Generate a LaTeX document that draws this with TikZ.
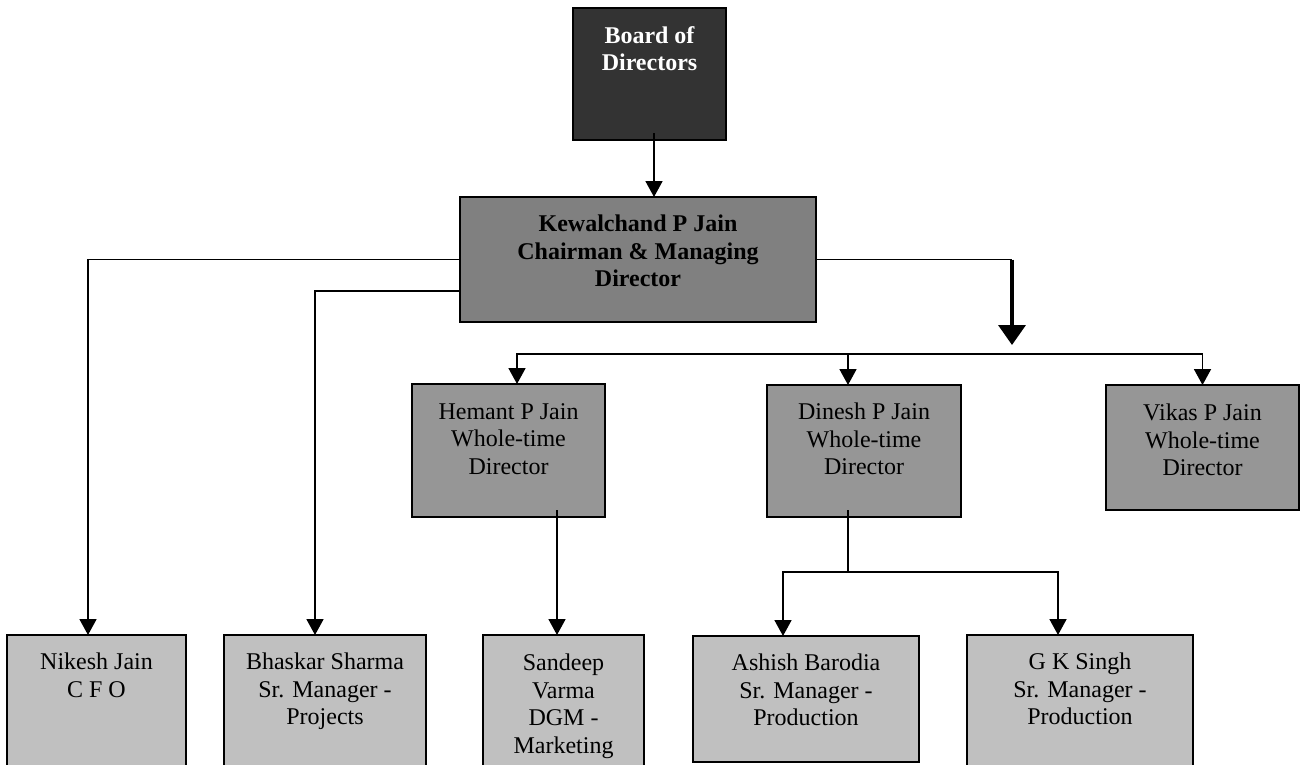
\documentclass[tikz,border=0pt]{standalone}
\usepackage{fontspec}
\setmainfont{Liberation Serif}
\usetikzlibrary{arrows.meta,calc}
\definecolor{gdark}{HTML}{333333}
\definecolor{gmid}{HTML}{808080}
\definecolor{glev}{HTML}{969696}
\definecolor{glight}{HTML}{C0C0C0}
\tikzset{
  box/.style={draw=black, line width=1.6pt, inner sep=0pt, outer sep=0pt},
  boardbox/.style={box, fill=gdark},
  chairbox/.style={box, fill=gmid},
  dirbox/.style={box, fill=glev},
  mgrbox/.style={box, fill=glight},
  txt/.style={anchor=north, align=center, inner sep=0pt, font=\fontsize{24}{27.5}\selectfont,
    execute at begin node={\rule{0pt}{20pt}}},
  btxt/.style={txt, font=\fontsize{24}{27.5}\selectfont\bfseries},
  conn/.style={line width=1.8pt},
  thinconn/.style={line width=1pt},
  arr/.style={conn, -{Triangle[width=17pt,length=16pt]}},
  bigarr/.style={line width=3.6pt, -{Triangle[width=27pt,length=20pt]}},
}
\begin{document}
\begin{tikzpicture}[x=1pt,y=-1pt]
\fill[white] (0,0) rectangle (1300,765);
\useasboundingbox (0,0) rectangle (1300,765);

% boxes
\node[boardbox, minimum width=153, minimum height=132] (bod) at (649.5,74) {};
\node[chairbox, minimum width=356, minimum height=125] (cmd) at (638,259.5) {};
\node[dirbox, minimum width=193, minimum height=133] (hem) at (508.5,450.5) {};
\node[dirbox, minimum width=194, minimum height=132] (din) at (864,451) {};
\node[dirbox, minimum width=193, minimum height=125] (vik) at (1202.5,447.5) {};
\node[mgrbox, minimum width=179, minimum height=140] (nik) at (96.5,705) {};
\node[mgrbox, minimum width=202, minimum height=140] (bha) at (325,705) {};
\node[mgrbox, minimum width=161, minimum height=140] (san) at (563.5,705) {};
\node[mgrbox, minimum width=226, minimum height=126] (ash) at (806,699) {};
\node[mgrbox, minimum width=226, minimum height=140] (gks) at (1080,705) {};

% texts
\node[btxt, text=white] (bodt) at ([yshift=-18]bod.north) {Board of\\Directors};
\node[btxt] (cmdt) at ([yshift=-18]cmd.north) {Kewalchand P Jain\\Chairman \& Managing\\Director};
\node[txt] (hemt) at ([yshift=-19]hem.north) {Hemant P Jain\\Whole-time\\Director};
\node[txt] (dint) at ([yshift=-18]din.north) {Dinesh P Jain\\Whole-time\\Director};
\node[txt] (vikt) at ([yshift=-19]vik.north) {Vikas P Jain\\Whole-time\\Director};
\node[txt] (nikt) at ([yshift=-18]nik.north) {Nikesh Jain\\C F O};
\node[txt] (bhat) at ([yshift=-18]bha.north) {Bhaskar Sharma\\Sr. Manager -\\Projects};
\node[txt] (sant) at ([yshift=-19]san.north) {Sandeep\\Varma\\DGM -\\Marketing};
\node[txt] (asht) at ([yshift=-18]ash.north) {Ashish Barodia\\Sr. Manager -\\Production};
\node[txt] (gkst) at ([yshift=-18]gks.north) {G K Singh\\Sr. Manager -\\Production};

% connectors
\draw[arr] ([xshift=4.5,yshift=7]bod.south) -- ([xshift=4.5]bod.south |- cmd.north);
\draw[arr] (cmd.west) -| ([xshift=-8.5]nik.north);
\draw[arr] ([yshift=-31.5]cmd.west) -| ([xshift=-10]bha.north);

\coordinate (jt) at (1012,259.5);
\coordinate (jtip) at (1012,345);
\coordinate (bar) at (1012,354);
\draw[thinconn] (cmd.east) -- (jt);
\draw[bigarr] (jt) -- (jtip);
\draw[arr] (bar) -| ([xshift=8.5]hem.north);
\draw[arr] (bar) -| (vik.north);
\draw[arr] ([xshift=-16]din.north |- bar) -- ([xshift=-16]din.north);

\draw[arr] ([xshift=48.5,yshift=7]hem.south) -- ([xshift=48.5]hem.south |- san.north);

\coordinate (dj) at (848,572);
\draw[conn] ([xshift=-16,yshift=7]din.south) -- (dj);
\draw[arr] (dj) -| ([xshift=-23]ash.north);
\draw[arr] (dj) -| ([xshift=-22]gks.north);
\end{tikzpicture}
\end{document}
